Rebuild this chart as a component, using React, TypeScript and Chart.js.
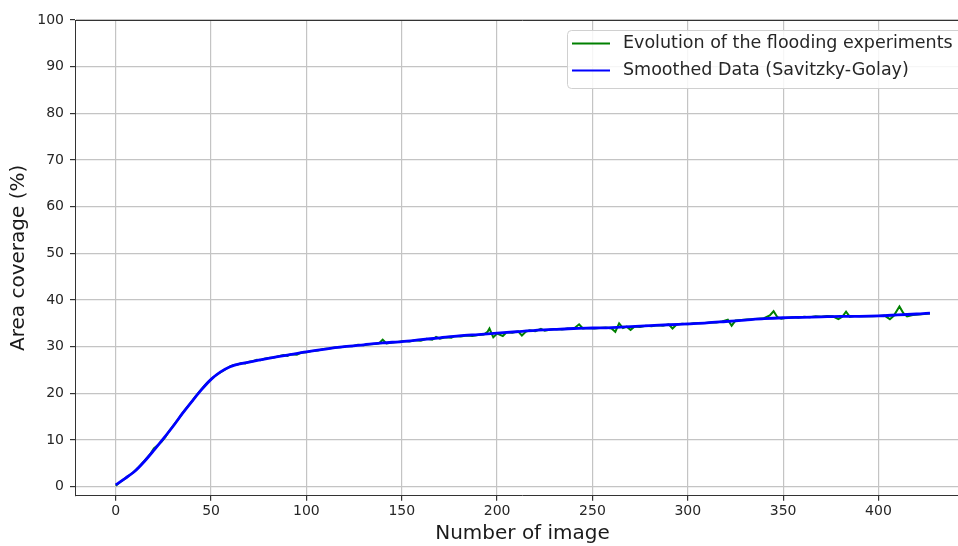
import React, { useEffect, useRef } from "react";
import { Chart, registerables } from "chart.js";

Chart.register(...registerables);

const xTicks = [0, 50, 100, 150, 200, 250, 300, 350, 400];
const yTicks = [0, 10, 20, 30, 40, 50, 60, 70, 80, 90, 100];

const rawLabel = "Evolution of the flooding experiments";
const smoothLabel = "Smoothed Data (Savitzky-Golay)";
const xTitle = "Number of image";
const yTitle = "Area coverage (%)";

const rawX = [0, 3, 6, 9, 12, 15, 18, 20, 22, 24, 26, 28, 30, 33, 36, 39, 42, 45, 48, 51, 54, 57, 60, 62, 64, 66, 68, 70, 72, 74, 76, 78, 80, 83, 86, 88, 90, 92, 95, 97, 100, 103, 106, 109, 112, 115, 118, 121, 124, 127, 130, 133, 136, 138, 140, 142, 145, 148, 151, 154, 157, 160, 163, 166, 168, 170, 173, 176, 178, 181, 184, 187, 190, 193, 195, 196, 198, 200, 203, 205, 208, 211, 213, 215, 217, 220, 223, 225, 228, 231, 234, 237, 240, 243, 245, 248, 251, 254, 257, 260, 262, 264, 266, 268, 270, 272, 275, 278, 281, 284, 287, 290, 292, 294, 297, 300, 303, 306, 309, 312, 315, 318, 321, 323, 325, 328, 331, 334, 337, 340, 343, 345, 347, 349, 352, 355, 358, 361, 364, 367, 370, 373, 376, 379, 381, 383, 385, 388, 391, 394, 397, 400, 403, 406, 408, 411, 413, 415, 418, 421, 424, 427];
const rawY = [0.2, 1.2, 2.1, 3.0, 4.2, 5.5, 6.9, 8.2, 8.9, 9.6, 10.6, 11.9, 13.0, 14.6, 16.3, 17.8, 19.4, 20.9, 22.3, 23.4, 24.3, 25.0, 25.8, 26.1, 26.2, 26.5, 26.4, 26.8, 26.9, 27.2, 27.1, 27.4, 27.6, 27.7, 28.0, 28.2, 28.0, 28.4, 28.3, 28.7, 28.8, 29.1, 29.2, 29.5, 29.6, 29.8, 29.9, 30.1, 30.1, 30.4, 30.3, 30.5, 30.6, 30.7, 31.5, 30.7, 30.9, 31.0, 31.2, 31.1, 31.4, 31.3, 31.7, 31.5, 32.1, 31.7, 32.0, 31.9, 32.3, 32.2, 32.4, 32.3, 32.5, 32.6, 33.2, 33.9, 32.0, 32.8, 32.3, 33.1, 33.0, 33.3, 32.4, 33.2, 33.5, 33.3, 33.8, 33.4, 33.7, 33.8, 33.7, 33.9, 33.8, 34.8, 33.9, 34.0, 33.9, 34.0, 34.1, 33.9, 33.2, 35.0, 34.0, 34.3, 33.6, 34.3, 34.2, 34.5, 34.4, 34.6, 34.5, 34.8, 33.9, 34.7, 34.9, 34.8, 35.0, 35.0, 35.1, 35.2, 35.2, 35.4, 35.8, 34.5, 35.6, 35.7, 35.8, 35.9, 36.0, 36.1, 36.7, 37.6, 36.3, 36.0, 36.2, 36.3, 36.2, 36.4, 36.3, 36.5, 36.4, 36.6, 36.5, 35.9, 36.4, 37.5, 36.4, 36.6, 36.5, 36.6, 36.5, 36.6, 36.7, 35.9, 36.6, 38.6, 37.2, 36.5, 36.8, 36.9, 37.0, 37.1];

const smoothX = [0, 5, 10, 15, 20, 25, 30, 35, 40, 45, 50, 55, 60, 65, 70, 75, 80, 90, 100, 110, 120, 130, 140, 150, 160, 170, 180, 190, 200, 210, 220, 230, 240, 250, 260, 270, 280, 290, 300, 310, 320, 330, 340, 350, 360, 370, 380, 390, 400, 410, 420, 427];
const smoothY = [0.4, 1.8, 3.3, 5.4, 7.8, 10.3, 12.9, 15.7, 18.3, 20.8, 23.0, 24.6, 25.7, 26.3, 26.7, 27.1, 27.5, 28.2, 28.9, 29.5, 30.0, 30.4, 30.8, 31.1, 31.5, 31.9, 32.3, 32.6, 32.9, 33.2, 33.5, 33.7, 33.9, 34.0, 34.1, 34.3, 34.5, 34.7, 34.9, 35.1, 35.4, 35.7, 36.0, 36.2, 36.3, 36.4, 36.5, 36.5, 36.6, 36.8, 37.0, 37.2];

const FONT = "'DejaVu Sans', sans-serif";

const framePlugin = {
  id: "frameAndLegend",
  afterDatasetsDraw(chart: any) {
    const { ctx, chartArea } = chart;
    ctx.save();
    ctx.strokeStyle = "#333";
    ctx.lineWidth = 1;
    ctx.beginPath();
    ctx.moveTo(chartArea.left, chartArea.top + 0.5);
    ctx.lineTo(chartArea.right, chartArea.top + 0.5);
    ctx.stroke();

    const bx = 567.5, by = 30.5, bw = 395, bh = 58;
    const r = 4;
    ctx.beginPath();
    ctx.moveTo(bx + r, by);
    ctx.lineTo(bx + bw - r, by);
    ctx.arcTo(bx + bw, by, bx + bw, by + r, r);
    ctx.lineTo(bx + bw, by + bh - r);
    ctx.arcTo(bx + bw, by + bh, bx + bw - r, by + bh, r);
    ctx.lineTo(bx + r, by + bh);
    ctx.arcTo(bx, by + bh, bx, by + bh - r, r);
    ctx.lineTo(bx, by + r);
    ctx.arcTo(bx, by, bx + r, by, r);
    ctx.closePath();
    ctx.fillStyle = "rgba(255,255,255,0.85)";
    ctx.fill();
    ctx.strokeStyle = "#d0d0d0";
    ctx.stroke();

    const rows = [43.5, 70.5];
    chart.data.datasets.forEach((ds: any, i: number) => {
      const y = rows[i];
      ctx.strokeStyle = ds.borderColor;
      ctx.lineWidth = 2;
      ctx.beginPath();
      ctx.moveTo(572, y);
      ctx.lineTo(610, y);
      ctx.stroke();
      ctx.fillStyle = "#262626";
      ctx.font = `17.5px ${FONT}`;
      ctx.textBaseline = "middle";
      ctx.textAlign = "left";
      ctx.fillText(ds.label, 623, y);
    });
    ctx.restore();
  },
};

export default function App() {
  const ref = useRef<HTMLCanvasElement | null>(null);
  useEffect(() => {
    if (!ref.current) return;
    const chart = new Chart(ref.current, {
      type: "line",
      data: {
        datasets: [
          {
            label: rawLabel,
            data: rawX.map((x, i) => ({ x, y: rawY[i] })),
            borderColor: "#008000",
            borderWidth: 2,
            pointRadius: 0,
            tension: 0,
            order: 2,
          },
          {
            label: smoothLabel,
            data: smoothX.map((x, i) => ({ x, y: smoothY[i] })),
            borderColor: "#0000ff",
            borderWidth: 2.8,
            pointRadius: 0,
            tension: 0.3,
            order: 1,
          },
        ],
      },
      options: {
        animation: false,
        responsive: false,
        layout: { padding: { top: 20, left: 0, right: 0, bottom: 0 } },
        plugins: { legend: { display: false }, tooltip: { enabled: false } },
        scales: {
          x: {
            type: "linear",
            min: -21.35,
            max: 448,
            afterBuildTicks: (axis: any) => {
              axis.ticks = xTicks.map((v) => ({ value: v }));
            },
            afterFit: (s: any) => {
              s.height = 50.3;
            },
            ticks: {
              color: "#262626",
              font: { family: FONT, size: 14 },
              padding: 2,
              maxRotation: 0,
            },
            grid: {
              color: "#c4c4c4",
              lineWidth: 1.2,
              tickColor: "#333",
              tickLength: 5,
            },
            border: { display: true, color: "#333", width: 1 },
            title: {
              display: true,
              text: xTitle,
              color: "#1a1a1a",
              font: { family: FONT, size: 20 },
              padding: { top: 0, bottom: 0 },
            },
          },
          y: {
            type: "linear",
            min: -1.93,
            max: 100,
            afterBuildTicks: (axis: any) => {
              axis.ticks = yTicks.map((v) => ({ value: v }));
            },
            afterFit: (s: any) => {
              s.width = 75;
            },
            ticks: {
              color: "#262626",
              font: { family: FONT, size: 14 },
              padding: 6,
            },
            grid: {
              color: "#c4c4c4",
              lineWidth: 1.2,
              tickColor: "#333",
              tickLength: 5,
            },
            border: { display: true, color: "#333", width: 1 },
            title: {
              display: true,
              text: yTitle,
              color: "#1a1a1a",
              font: { family: FONT, size: 20 },
              padding: { top: 7, bottom: 0 },
            },
          },
        },
      },
      plugins: [framePlugin],
    });
    return () => chart.destroy();
  }, []);
  return (
    <div style={{ position: "fixed", left: 0, top: 0, width: 958, height: 546, overflow: "hidden", background: "#fff" }}>
      <canvas ref={ref} width={970} height={546} style={{ display: "block" }} />
    </div>
  );
}
